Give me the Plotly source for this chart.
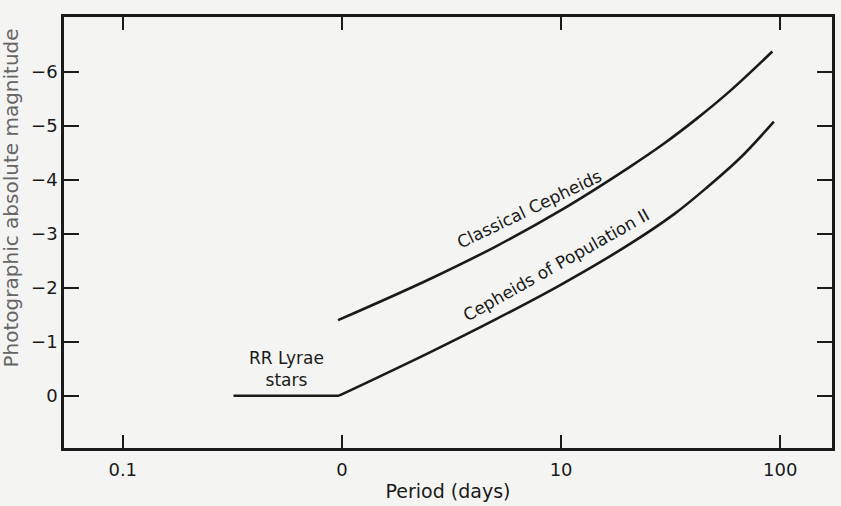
import numpy as np
import plotly.graph_objects as go

# ---- data ----
rr_period = [0.32, 0.97]
rr_mag = [0.0, 0.0]

classical_period = [0.96, 2.48, 5.0, 10.0, 20.2, 29.6, 42.0, 59.4, 92.0]
classical_mag = [-1.40, -2.15, -2.76, -3.44, -4.22, -4.68, -5.15, -5.66, -6.38]

pop2_period = [0.97, 2.48, 5.0, 10.0, 20.2, 32.9, 46.6, 66.1, 93.5]
pop2_mag = [0.0, -0.79, -1.41, -2.06, -2.79, -3.37, -3.87, -4.42, -5.08]

x_tickvals = [0.1, 1, 10, 100]
x_ticktext = ["0.1", "0", "10", "100"]
y_tickvals = [0, -1, -2, -3, -4, -5, -6]
y_ticktext = ["0", "\u22121", "\u22122", "\u22123", "\u22124", "\u22125", "\u22126"]

label_texts = ["RR Lyrae<br>stars", "Classical Cepheids", "Cepheids of Population II"]
label_periods = [0.556, 7.16, 9.49]
label_mags = [-0.5, -3.47, -2.42]
label_angles = [0, -25.7, -29.4]

FONT = "DejaVu Sans"
INK = "#1a1a1a"

fig = go.Figure()
line_style = dict(color=INK, width=2.6)
fig.add_trace(go.Scatter(x=rr_period, y=rr_mag, mode="lines", line=line_style,
                         hoverinfo="skip", showlegend=False))
fig.add_trace(go.Scatter(x=classical_period, y=classical_mag, mode="lines",
                         line=dict(line_style, shape="spline", smoothing=1.0),
                         hoverinfo="skip", showlegend=False))
fig.add_trace(go.Scatter(x=pop2_period, y=pop2_mag, mode="lines",
                         line=dict(line_style, shape="spline", smoothing=1.0),
                         hoverinfo="skip", showlegend=False))

for txt, p, m, a in zip(label_texts, label_periods, label_mags, label_angles):
    fig.add_annotation(x=np.log10(p), y=m, text=txt, showarrow=False,
                       textangle=a, font=dict(family=FONT, size=17, color=INK))

# y-axis title, hugging the left edge as in the scan
fig.add_annotation(x=0, y=0.579, xref="paper", yref="paper", xanchor="center",
                   xshift=-53, text="Photographic absolute magnitude",
                   textangle=-90, showarrow=False,
                   font=dict(family=FONT, size=20, color="#666666"))

fig.update_xaxes(type="log", range=[-1.268, 2.236], tickvals=x_tickvals,
                 ticktext=x_ticktext, ticks="inside", ticklen=13, tickwidth=2,
                 tickcolor=INK, showline=True, linecolor=INK, linewidth=2.5,
                 mirror="ticks", showgrid=False, zeroline=False,
                 tickfont=dict(family=FONT, size=18, color=INK),
                 ticklabelstandoff=4,
                 title=dict(text="Period (days)", standoff=6,
                            font=dict(family=FONT, size=19, color=INK)))
fig.update_yaxes(range=[0.97, -7.02], tickvals=y_tickvals, ticktext=y_ticktext,
                 ticks="inside", ticklen=15, tickwidth=2, tickcolor=INK,
                 showline=True, linecolor=INK, linewidth=2.5, mirror="ticks",
                 showgrid=False, zeroline=False,
                 tickfont=dict(family=FONT, size=18, color=INK))

fig.update_layout(width=841, height=506,
                  margin=dict(l=64, r=6, t=17, b=57),
                  paper_bgcolor="#f4f4f2", plot_bgcolor="#f4f4f2")

fig.write_html("out.html")
